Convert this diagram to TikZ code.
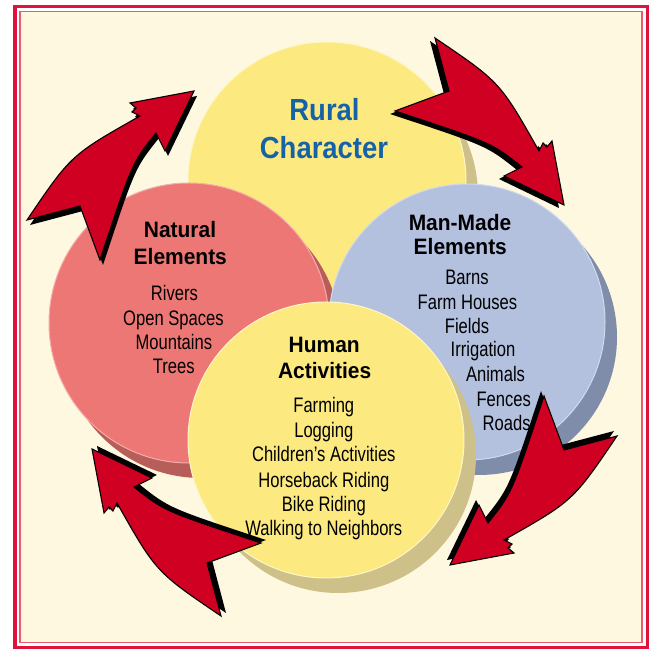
\documentclass[tikz,border=0pt]{standalone}
\usepackage{fontspec}
\setmainfont{Liberation Sans}
\newfontfamily\titlefont[FakeStretch=0.9]{Liberation Sans}
\newfontfamily\headfont[FakeStretch=0.94]{Liberation Sans}
\newfontfamily\itemfont[FakeStretch=0.79]{Liberation Sans}

\definecolor{cream}{RGB}{255,248,225}
\definecolor{framered}{RGB}{222,18,58}
\definecolor{framepink}{RGB}{234,90,112}
\definecolor{sunyellow}{RGB}{252,234,128}
\definecolor{sunshadow}{RGB}{205,192,137}
\definecolor{salmon}{RGB}{236,119,116}
\definecolor{salmonshadow}{RGB}{184,94,90}
\definecolor{skyblue}{RGB}{179,193,223}
\definecolor{skyshadow}{RGB}{127,140,170}
\definecolor{titleblue}{RGB}{22,98,168}
\definecolor{arrowred}{RGB}{208,0,34}

% one swoosh arrow, drawn around the middle of the circles
\def\swooshpath{(-128,242) -- (-157,182) -- (-166,200) .. controls (-190,170) .. (-222,73)
  -- (-242,127) -- (-295,113) .. controls (-251,178) .. (-182,217)
  -- (-190,221) -- (-186,225) -- (-192,230) -- cycle}

\tikzset{
  heading/.style={anchor=base, inner sep=0pt, font=\headfont\bfseries\fontsize{22.3}{26}\selectfont},
  entry/.style={anchor=base, inner sep=0pt, font=\itemfont\fontsize{21}{24}\selectfont},
  swoosh/.pic={
    \fill[black, shift={(3,-5)}] \swooshpath;
    \draw[fill=arrowred, line width=1.1pt] \swooshpath;
  }
}

\begin{document}
\begin{tikzpicture}[x=1pt,y=1pt]
\useasboundingbox (0,0) rectangle (653,650);
\fill[white] (0,0) rectangle (653,650);

% frame
\draw[framered, line width=3.6] (15,2.5) rectangle (647.5,643.3);
\draw[framepink, line width=1.4, fill=cream] (19.8,7.2) rectangle (642,638.5);

% circles, each with its shadow
\fill[sunshadow] (339,454) circle (139pt);
\draw[sunyellow!45!white, fill=sunyellow, line width=1pt] (327,469) circle (139pt);

\fill[salmonshadow] (201,312) circle (140pt);
\draw[salmon!60!white, fill=salmon, line width=1pt] (189,327) circle (140pt);

\fill[skyshadow] (479,313) circle (138pt);
\draw[skyblue!60!white, fill=skyblue, line width=1pt] (467,328) circle (138pt);

\fill[sunshadow] (338,195) circle (138pt);
\draw[sunyellow!45!white, fill=sunyellow, line width=1pt] (326,210) circle (138pt);

% top circle
\node[anchor=base, inner sep=0pt, text=titleblue, font=\titlefont\bfseries\fontsize{30.5}{36}\selectfont] (rural) at (324.5,529) {Rural};
\node[anchor=base, inner sep=0pt, text=titleblue, font=\titlefont\bfseries\fontsize{30.5}{36}\selectfont] (character) at (324,491.7) {Character};

% left circle
\node[heading] (natural) at (180,412.3) {Natural};
\node[heading] (natelements) at (180.3,385.7) {Elements};
\foreach \t/\x/\y [count=\i] in {Rivers/174.5/349, Open Spaces/173.5/324.5,
    Mountains/173.8/300, Trees/173.8/276}
  \node[entry] (nat\i) at (\x,\y) {\t};

% right circle
\node[heading] (manmade) at (460,419.3) {Man-Made};
\node[heading] (manelements) at (460.3,395) {Elements};
\foreach \t/\x/\y [count=\i] in {Barns/467/365, Farm Houses/467.5/340,
    Fields/467/316.7, Irrigation/483/293.3, Animals/495.5/268.3,
    Fences/503.7/243.3, Roads/506.7/219}
  \node[entry] (man\i) at (\x,\y) {\t};

% bottom circle
\node[heading] (human) at (324.2,297.7) {Human};
\node[heading] (activities) at (324.7,271.7) {Activities};
\foreach \t/\y [count=\i] in {Farming/237.7, Logging/212.7,
    Children’s Activities/188.3, Horseback Riding/162.7,
    Bike Riding/138.3, Walking to Neighbors/114}
  \node[entry] (act\i) at (323.8,\y) {\t};

% arrows going round
\pic at (322,317) {swoosh};
\pic[rotate=-90] at (322,317) {swoosh};
\pic[rotate=-180] at (322,327) {swoosh};
\pic[rotate=-270] at (334,329) {swoosh};
\end{tikzpicture}
\end{document}
